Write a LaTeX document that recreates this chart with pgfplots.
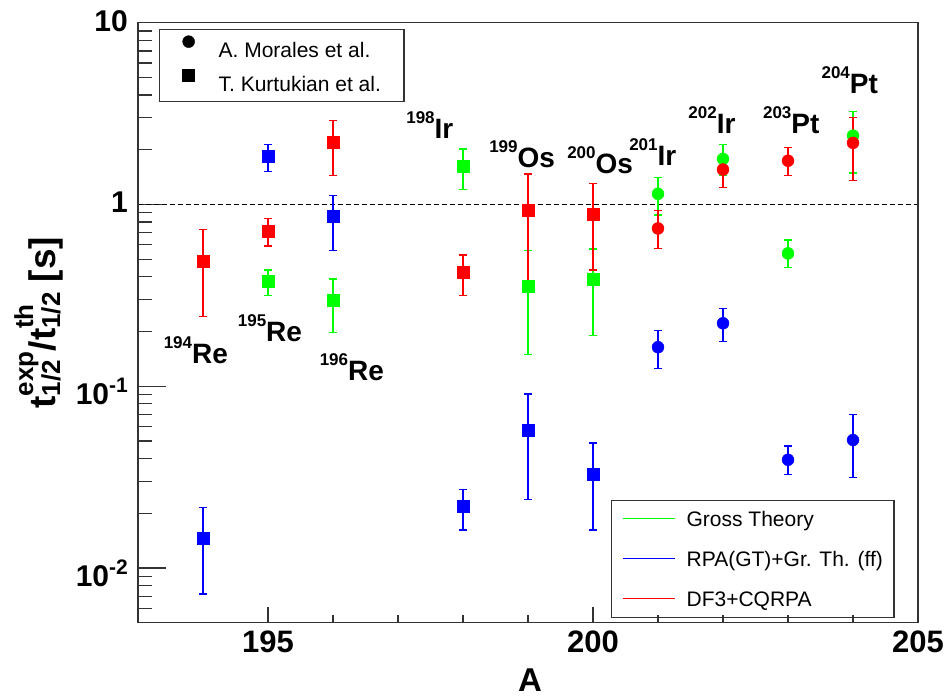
\documentclass[border=0pt]{standalone}
\usepackage{fix-cm}
\usepackage{fontspec}
\setmainfont{Liberation Sans}
\usepackage{pgfplots}
\usepackage{pgfplotstable}
\pgfplotsset{compat=1.18}

\definecolor{rgreen}{RGB}{0,255,0}
\definecolor{rblue}{RGB}{0,0,255}
\definecolor{rred}{RGB}{255,0,0}
\definecolor{framec}{RGB}{51,51,51}

% columns: mass number, ratio, lower and upper end of the error bar
\pgfplotstableread{
A v lo hi
195 0.380 0.317 0.436
196 0.296 0.198 0.389
198 1.62 1.21 2.02
199 0.356 0.149 0.560
200 0.388 0.190 0.569
}\greensq
\pgfplotstableread{
A v lo hi
201 1.145 0.874 1.41
202 1.78 1.44 2.14
203 0.538 0.448 0.637
204 2.39 1.49 3.25
}\greencirc
\pgfplotstableread{
A v lo hi
194 0.01466 0.00719 0.0216
195 1.84 1.52 2.14
196 0.857 0.557 1.12
198 0.0218 0.0162 0.0270
199 0.0571 0.0237 0.0907
200 0.0330 0.0162 0.0487
}\bluesq
\pgfplotstableread{
A v lo hi
201 0.164 0.1255 0.202
202 0.222 0.176 0.267
203 0.0394 0.0326 0.0469
204 0.0506 0.0314 0.0696
}\bluecirc
\pgfplotstableread{
A v lo hi
194 0.485 0.242 0.729
195 0.717 0.591 0.835
196 2.21 1.44 2.90
198 0.425 0.317 0.527
199 0.927 0.383 1.47
200 0.889 0.436 1.31
}\redsq
\pgfplotstableread{
A v lo hi
201 0.738 0.571 0.930
202 1.556 1.24 1.84
203 1.74 1.44 2.06
204 2.18 1.36 3.01
}\redcirc

% nuclide name with its mass number as a superscript
\newcommand\nuc[2]{{\fontsize{17}{17}\selectfont\raisebox{14.5pt}{#1}}#2}
% stacked super- and subscript for the y title
\newcommand\supsub[2]{{\fontsize{26}{26}\selectfont
  \setbox0=\hbox{#1}\setbox2=\hbox{#2}%
  \ifdim\wd0>\wd2 \dimen0=\wd0 \else \dimen0=\wd2 \fi
  \makebox[\dimen0][l]{\rlap{\raisebox{22pt}{\box0}}\raisebox{-5pt}{\box2}}}}
\newcommand\decade[1]{\raisebox{-5pt}[\height][\depth]{10\raisebox{11.8pt}{\fontsize{21}{21}\selectfont #1}}}
\newcommand\plainlab[1]{\raisebox{2pt}[\height][\depth]{#1}}
% coloured line in front of a model's name in the legend
\newcommand\modelline[1]{\textcolor{#1}{\rule[6.7pt]{52pt}{1.6pt}}\hspace{12pt}}

\pgfplotsset{
  onemark legend/.style={legend image code/.code={%
    \draw[##1] plot coordinates {(0pt,7.5pt)};}},
}

\begin{document}
\begin{tikzpicture}
\useasboundingbox (0,0) rectangle (951pt,697pt);

\begin{axis}[
  at={(138pt,74.3pt)}, anchor=south west, scale only axis,
  width=780pt, height=600pt,
  xmin=193, xmax=205, ymode=log, ymin=0.005, ymax=10,
  axis line style={framec, line width=1.4pt},
  tick style={framec, line width=1.3pt},
  tick align=inside,
  xtick=\empty,
  ytick={0.01,0.1,1,10},
  yticklabels={\decade{-2},\decade{-1},\plainlab{1},\plainlab{10}},
  minor ytick={0.006,0.007,0.008,0.009,0.02,0.03,0.04,0.05,0.06,0.07,0.08,0.09,
    0.2,0.3,0.4,0.5,0.6,0.7,0.8,0.9,2,3,4,5,6,7,8,9},
  ytick pos=left,
  major tick length=28pt, minor tick length=14pt,
  yticklabel style={font=\bfseries\fontsize{30}{30}\selectfont, inner sep=0pt, xshift=-10pt},
  xlabel={A},
  xlabel style={at={(axis description cs:0.5026,-0.0955)}, anchor=center,
    font=\bfseries\fontsize{33}{33}\selectfont, inner sep=0pt},
  ylabel={t\supsub{exp}{1/2}/t\supsub{th}{1/2} [s]},
  ylabel style={at={(axis description cs:-0.1276,0.5)}, anchor=center,
    font=\bfseries\fontsize{37}{37}\selectfont, inner sep=0pt},
  legend cell align=left,
  legend style={at={(0.6064,0.2045)}, anchor=north west, draw=framec,
    line width=1.3pt, fill=white, font=\fontsize{21}{21}\selectfont,
    inner xsep=11pt, inner ysep=6pt, row sep=15.5pt, column sep=0pt,
    nodes={inner sep=0pt, text height=19.5pt, text depth=5pt}},
  error bars/y dir=both, error bars/y explicit,
  error bars/error bar style={line width=1.2pt},
  error bars/error mark options={rotate=90, mark size=4pt, line width=1.2pt},
]
\addplot[black, dashed, line width=1.2pt, dash pattern=on 4.5pt off 3.5pt, forget plot]
  coordinates {(193,1) (205,1)};

\addplot[color=rgreen, mark=square*, only marks, mark size=6pt, forget plot] table[x=A, y=v,
  y error plus expr=\thisrow{hi}-\thisrow{v}, y error minus expr=\thisrow{v}-\thisrow{lo}] {\greensq};
\addplot[color=rgreen, mark=*, only marks, mark size=6pt, forget plot] table[x=A, y=v,
  y error plus expr=\thisrow{hi}-\thisrow{v}, y error minus expr=\thisrow{v}-\thisrow{lo}] {\greencirc};
\addplot[color=rblue, mark=square*, only marks, mark size=6pt, forget plot] table[x=A, y=v,
  y error plus expr=\thisrow{hi}-\thisrow{v}, y error minus expr=\thisrow{v}-\thisrow{lo}] {\bluesq};
\addplot[color=rblue, mark=*, only marks, mark size=6pt, forget plot] table[x=A, y=v,
  y error plus expr=\thisrow{hi}-\thisrow{v}, y error minus expr=\thisrow{v}-\thisrow{lo}] {\bluecirc};
\addplot[color=rred, mark=square*, only marks, mark size=6pt, forget plot] table[x=A, y=v,
  y error plus expr=\thisrow{hi}-\thisrow{v}, y error minus expr=\thisrow{v}-\thisrow{lo}] {\redsq};
\addplot[color=rred, mark=*, only marks, mark size=6pt, forget plot] table[x=A, y=v,
  y error plus expr=\thisrow{hi}-\thisrow{v}, y error minus expr=\thisrow{v}-\thisrow{lo}] {\redcirc};

\addlegendimage{empty legend}
\addlegendentry{\modelline{rgreen}Gross Theory}
\addlegendimage{empty legend}
\addlegendentry{\modelline{rblue}RPA(GT)+Gr. Th. (ff)}
\addlegendimage{empty legend}
\addlegendentry{\modelline{rred}DF3+CQRPA}

\begin{scope}[every node/.style={font=\bfseries\fontsize{28}{28}\selectfont, inner sep=0pt}]
\node at (axis cs:193.89,0.158) {\nuc{194}{Re}};
\node at (axis cs:195.03,0.209) {\nuc{195}{Re}};
\node at (axis cs:196.29,0.1276) {\nuc{196}{Re}};
\node at (axis cs:197.49,2.736) {\nuc{198}{Ir}};
\node at (axis cs:198.91,1.895) {\nuc{199}{Os}};
\node at (axis cs:200.11,1.756) {\nuc{200}{Os}};
\node at (axis cs:200.92,1.944) {\nuc{201}{Ir}};
\node at (axis cs:201.83,2.915) {\nuc{202}{Ir}};
\node at (axis cs:203.05,2.915) {\nuc{203}{Pt}};
\node at (axis cs:203.95,4.84) {\nuc{204}{Pt}};
\end{scope}
\end{axis}

% x ticks and the legend of the two measurements
\begin{axis}[
  at={(138pt,74.3pt)}, anchor=south west, scale only axis,
  width=780pt, height=600pt,
  xmin=193, xmax=205, ymin=0.005, ymax=10, ymode=log,
  axis line style={framec, line width=1.4pt},
  tick style={framec, line width=1.3pt},
  tick align=inside,
  ytick=\empty,
  xtick={195,200,205}, xticklabels={195,200,205},
  minor x tick num=4, xtick pos=bottom,
  major tick length=16pt, minor tick length=7.7pt,
  xticklabel style={font=\bfseries\fontsize{31}{31}\selectfont, inner sep=0pt, yshift=-8pt},
  onemark legend,
  legend cell align=left,
  legend style={at={(0.0269,0.9895)}, anchor=north west, draw=framec,
    line width=1.3pt, fill=white, font=\fontsize{21}{21}\selectfont,
    inner xsep=23pt, inner ysep=6pt, row sep=7pt, column sep=24pt,
    nodes={inner sep=0pt, text height=21.5pt, text depth=4.5pt}},
]
\addlegendimage{draw=black, fill=black, line width=0.4pt, mark=*, mark size=6pt}
\addlegendentry{A. Morales et al.}
\addlegendimage{draw=black, fill=black, line width=0.4pt, mark=square*, mark size=6pt}
\addlegendentry{T. Kurtukian et al.}
\end{axis}
\end{tikzpicture}
\end{document}
